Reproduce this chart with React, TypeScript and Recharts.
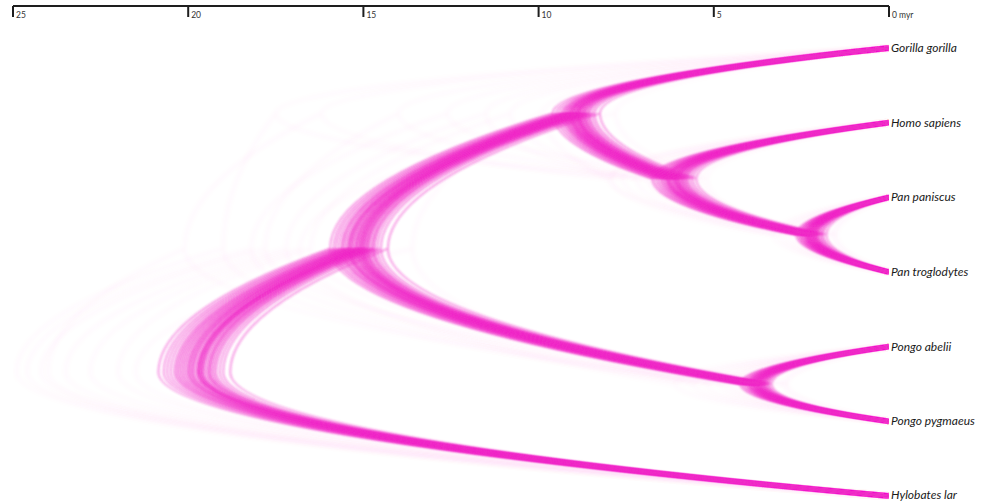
import { ComposedChart, Line, XAxis, YAxis } from "recharts";

const taxa = [
  "Gorilla gorilla",
  "Homo sapiens",
  "Pan paniscus",
  "Pan troglodytes",
  "Pongo abelii",
  "Pongo pygmaeus",
  "Hylobates lar",
];
const timeTicks = [25, 20, 15, 10, 5, 0];

const panAges = [2.21, 2.35, 2.08, 2.44, 2.17, 2.29, 1.96, 2.52, 2.25, 2.12, 2.38, 2.03, 2.31, 2.19, 2.6, 2.27, 1.88, 2.41, 2.14, 2.33, 2.23, 2.48, 2.06, 2.36, 1.79, 2.18, 2.3, 2.1, 2.56, 2.24, 2.15, 2.42, 2.01, 2.28, 2.5, 1.92, 2.34, 2.2, 2.65, 2.11];
const homoPanAges = [6.12, 6.31, 5.88, 6.45, 6.02, 6.21, 5.74, 6.58, 6.09, 5.95, 6.37, 5.81, 6.26, 6.05, 6.7, 6.16, 5.6, 6.41, 5.99, 6.29, 6.1, 6.52, 5.84, 6.33, 5.5, 6.07, 6.24, 5.92, 6.63, 6.14, 6.0, 6.35, 5.78, 6.18, 6.48, 5.67, 6.27, 6.03, 6.76, 5.9];
const africanAges = [8.92, 9.1, 8.7, 9.24, 8.83, 9.01, 8.55, 9.35, 8.88, 8.76, 9.15, 8.62, 9.05, 8.86, 9.5, 8.97, 8.4, 9.2, 8.8, 9.08, 8.9, 9.3, 8.66, 9.12, 8.25, 8.85, 9.03, 8.73, 9.42, 8.95, 8.8, 9.18, 8.58, 8.98, 9.27, 8.47, 9.07, 8.9, 9.6, 8.7];
const pongoAges = [3.76, 3.9, 3.6, 4.02, 3.7, 3.84, 3.5, 4.1, 3.74, 3.64, 3.95, 3.55, 3.87, 3.72, 4.2, 3.8, 3.42, 3.98, 3.67, 3.86, 3.77, 4.06, 3.58, 3.92, 3.35, 3.71, 3.83, 3.62, 4.14, 3.79, 3.68, 3.96, 3.52, 3.81, 4.0, 3.46, 3.88, 3.73, 4.25, 3.6];
const hominidAges = [15.12, 15.38, 14.85, 15.55, 15.0, 15.25, 14.68, 15.7, 15.08, 14.92, 15.45, 14.75, 15.32, 15.04, 15.85, 15.18, 14.5, 15.5, 14.96, 15.3, 15.1, 15.62, 14.8, 15.4, 14.3, 15.02, 15.22, 14.88, 15.78, 15.15, 14.98, 15.42, 14.72, 15.2, 15.6, 14.6, 15.35, 15.06, 15.95, 14.9];
const rootAges = [19.72, 20.05, 19.4, 20.3, 19.6, 19.9, 19.2, 20.5, 19.68, 19.5, 20.15, 19.3, 19.98, 19.62, 20.7, 19.8, 19.0, 20.25, 19.55, 19.95, 19.75, 20.4, 19.35, 20.1, 18.8, 19.65, 19.85, 19.45, 20.6, 19.7, 19.6, 20.2, 19.25, 19.88, 20.35, 19.1, 20.0, 19.7, 20.85, 19.4];

// rare outlying trees, drawn very faintly
const faintPanAges = [2.9, 1.5, 3.1, 2.7, 1.6, 2.4, 3.3, 2.0];
const faintHomoPanAges = [7.6, 6.9, 7.2, 5.2, 8.0, 6.8, 7.9, 5.4];
const faintAfricanAges = [11.5, 17.5, 10.8, 12.6, 9.9, 14.0, 16.2, 7.8];
const faintPongoAges = [4.6, 5.2, 3.0, 4.8, 5.6, 2.9, 4.4, 6.1];
const faintHominidAges = [17.2, 19.0, 16.5, 18.2, 13.6, 17.8, 20.1, 16.8];
const faintRootAges = [23.5, 24.9, 22.0, 24.6, 21.5, 24.2, 24.0, 22.8];

type NodeId = "root" | "hominid" | "african" | "homoPan" | "pan" | "pongo";
type Child = NodeId | number;

// numbers are tip indices into taxa
const topology: Record<NodeId, Child[]> = {
  root: ["hominid", 6],
  hominid: ["african", "pongo"],
  african: [0, "homoPan"],
  homoPan: [1, "pan"],
  pan: [2, 3],
  pongo: [4, 5],
};

const MAGENTA = "#f02ec8";

function nodeRow(n: Child): number {
  if (typeof n === "number") return n;
  const [a, b] = topology[n];
  return (nodeRow(a) + nodeRow(b)) / 2;
}

function treeSegments(ages: Record<NodeId, number>) {
  const pts: { t: number; y: number }[] = [];
  (Object.keys(topology) as NodeId[]).forEach((p) => {
    topology[p].forEach((c) => {
      pts.push({ t: ages[p], y: nodeRow(p) });
      pts.push({ t: typeof c === "number" ? 0 : ages[c], y: nodeRow(c) });
    });
  });
  return pts;
}

function buildTrees(
  root: number[], hominid: number[], african: number[],
  homoPan: number[], pan: number[], pongo: number[],
) {
  return root.map((_, i) =>
    treeSegments({
      root: root[i],
      hominid: hominid[i],
      african: african[i],
      homoPan: homoPan[i],
      pan: pan[i],
      pongo: pongo[i],
    }),
  );
}

const mainTrees = buildTrees(rootAges, hominidAges, africanAges, homoPanAges, panAges, pongoAges);
const faintTrees = buildTrees(faintRootAges, faintHominidAges, faintAfricanAges, faintHomoPanAges, faintPanAges, faintPongoAges);

// d3 curve: points come in (parent, child) pairs, each drawn as a DensiTree arc
const densiArc = (context: any) => {
  let pts: number[][] = [];
  return {
    areaStart() {},
    areaEnd() {},
    lineStart() {
      pts = [];
    },
    lineEnd() {
      for (let i = 0; i + 1 < pts.length; i += 2) {
        const [px, py] = pts[i];
        const [cx, cy] = pts[i + 1];
        context.moveTo(px, py);
        context.quadraticCurveTo(px, (py + cy) / 2, cx, cy);
      }
    },
    point(x: number, y: number) {
      pts.push([x, y]);
    },
  };
};

const fontFamily = "Lato, 'Open Sans', sans-serif";

function TimeTick({ x, y, payload }: any) {
  return (
    <g>
      <line x1={x} x2={x} y1={y} y2={y + 11} stroke="#1e1e1e" strokeWidth={2} />
      <text x={x + 3} y={y + 12} fontSize={8.5} fill="#333" fontFamily={fontFamily}>
        {payload.value === 0 ? "0 myr" : payload.value}
      </text>
    </g>
  );
}

function TaxonTick({ x, y, payload }: any) {
  return (
    <text
      x={x}
      y={y}
      dy={4}
      fontSize={12}
      fontStyle="italic"
      fill="#1a1a1a"
      fontFamily={fontFamily}
    >
      {taxa[payload.value]}
    </text>
  );
}

export default function App() {
  return (
    <div style={{ width: 982, height: 504, background: "#fff" }}>
      <style>{"body{margin:0}"}</style>
      <ComposedChart width={982} height={504} margin={{ top: 0, right: 0, bottom: 0, left: 13 }}>
        <defs>
          <filter id="soft" x="-5%" y="-5%" width="110%" height="110%">
            <feGaussianBlur stdDeviation="0.8" />
          </filter>
          <filter id="haze" x="-5%" y="-5%" width="110%" height="110%">
            <feGaussianBlur stdDeviation="2" />
          </filter>
        </defs>
        <XAxis
          xAxisId="t"
          dataKey="t"
          type="number"
          orientation="top"
          domain={[0, 25]}
          reversed
          allowDataOverflow
          ticks={timeTicks}
          height={6}
          tickSize={0}
          tickMargin={0}
          tick={<TimeTick />}
          axisLine={{ stroke: "#1e1e1e", strokeWidth: 2 }}
          tickLine={false}
        />
        <YAxis
          yAxisId="y"
          type="number"
          orientation="right"
          domain={[-0.5625, 6.107]}
          reversed
          allowDataOverflow
          ticks={[0, 1, 2, 3, 4, 5, 6]}
          width={93}
          tickSize={0}
          tickMargin={2}
          tick={<TaxonTick />}
          axisLine={false}
          tickLine={false}
        />
        {faintTrees.map((d, i) => (
          <Line
            key={`f${i}`}
            xAxisId="t"
            yAxisId="y"
            data={d}
            dataKey="y"
            type={densiArc as any}
            stroke={MAGENTA}
            strokeOpacity={0.03}
            strokeWidth={3}
            filter="url(#haze)"
            dot={false}
            activeDot={false}
            isAnimationActive={false}
          />
        ))}
        {mainTrees.map((d, i) => (
          <Line
            key={`m${i}`}
            xAxisId="t"
            yAxisId="y"
            data={d}
            dataKey="y"
            type={densiArc as any}
            stroke={MAGENTA}
            strokeOpacity={0.5}
            strokeWidth={1.8}
            filter="url(#soft)"
            dot={false}
            activeDot={false}
            isAnimationActive={false}
          />
        ))}
      </ComposedChart>
    </div>
  );
}
